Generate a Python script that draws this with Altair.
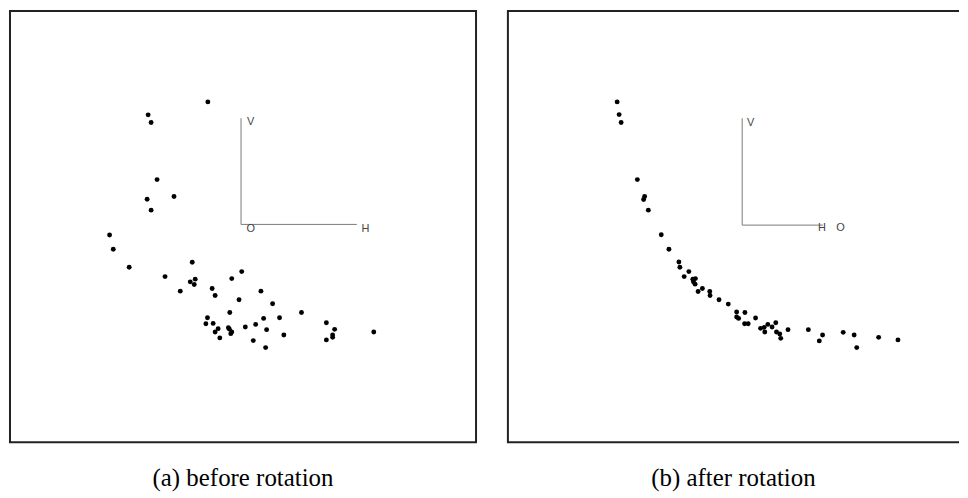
import altair as alt
import pandas as pd

# Data units: 1 unit ~ 1 px of the reference figure, x to the right, y upward
# (y = 0 on the lower frame line, x = 0 on the left frame line of each panel).
A_DOMAIN_X = [2, 470]
B_DOMAIN_X = [0, 453]
DOMAIN_Y = [0, 433]

# (a) before rotation: projected coordinates of the points
a_x = [200.7, 140.7, 143.7, 149.7, 166.7, 139.7, 143.7, 102.0, 105.7, 121.7,
       185.0, 157.7, 183.0, 188.0, 187.0, 173.0, 224.7, 234.7, 205.0, 208.0,
       254.0, 232.0, 265.7, 294.7, 222.7, 200.3, 198.7, 206.0, 256.7, 272.7,
       211.0, 208.0, 221.3, 222.3, 224.7, 223.7, 212.7, 238.3, 248.7, 259.7,
       277.0, 246.3, 258.7, 319.7, 328.0, 326.0, 326.0, 319.7, 367.3]
a_y = [341.7, 328.7, 321.0, 263.7, 246.7, 244.0, 233.0, 208.0, 193.7, 175.7,
       180.7, 166.3, 161.0, 163.7, 158.3, 151.7, 164.3, 171.3, 154.3, 147.3,
       151.7, 143.0, 139.0, 130.3, 130.3, 125.0, 119.0, 119.3, 124.3, 125.0,
       114.0, 110.7, 115.0, 113.5, 110.7, 109.0, 104.7, 115.7, 118.3, 113.0,
       107.7, 102.0, 95.0, 120.0, 113.3, 107.7, 105.3, 102.7, 110.7]

# (b) after rotation
b_x = [109.7, 111.7, 113.7, 130.0, 137.3, 136.3, 141.0, 154.0, 161.7, 171.7,
       172.7, 181.7, 177.0, 185.7, 188.3, 186.3, 188.0, 195.3, 191.0, 202.7,
       203.0, 212.0, 221.3, 229.7, 238.0, 229.7, 231.7, 248.7, 237.7, 241.3,
       253.7, 257.3, 261.0, 269.0, 265.3, 258.0, 269.7, 273.0, 274.0, 281.3,
       301.7, 312.7, 316.0, 336.7, 347.7, 350.3, 372.3, 391.7]
b_y = [341.7, 329.0, 321.0, 263.7, 246.7, 243.7, 233.0, 208.3, 193.7, 181.0,
       175.7, 171.3, 166.3, 163.7, 164.3, 161.0, 158.7, 154.3, 151.3, 151.3,
       147.3, 143.0, 138.7, 130.7, 130.3, 125.7, 124.3, 124.7, 119.0, 119.0,
       114.3, 115.3, 118.3, 120.0, 115.7, 110.7, 110.7, 108.7, 104.3, 113.0,
       113.0, 101.7, 107.7, 110.3, 107.7, 95.0, 105.3, 102.7]

# projection-axis indicator: segments (x, y) -> (x2, y2) and labels
a_seg_x = [234.0, 234.0]
a_seg_y = [218.7, 218.7]
a_seg_x2 = [234.0, 350.3]
a_seg_y2 = [325.3, 218.7]
a_lab = ["V", "O", "H"]
a_lab_x = [243.7, 243.7, 359.0]
a_lab_y = [321.3, 213.7, 213.7]

b_seg_x = [235.3, 235.3]
b_seg_y = [218.0, 218.0]
b_seg_x2 = [235.3, 316.3]
b_seg_y2 = [325.3, 218.0]
b_lab = ["V", "H", "O"]
b_lab_x = [243.7, 315.3, 334.0]
b_lab_y = [320.3, 214.7, 214.7]

captions = ["(a) before rotation", "(b) after rotation"]


def panel(dom_x, px, py, sx, sy, sx2, sy2, lab, lx, ly, caption, view):
    w = dom_x[1] - dom_x[0]
    h = DOMAIN_Y[1] - DOMAIN_Y[0]
    xs = alt.Scale(domain=dom_x, nice=False, zero=False)
    ys = alt.Scale(domain=DOMAIN_Y, nice=False, zero=False)
    pts = pd.DataFrame({"x": px, "y": py})
    seg = pd.DataFrame({"x": sx, "y": sy, "x2": sx2, "y2": sy2})
    labs = pd.DataFrame({"x": lx, "y": ly, "label": lab})

    rules = alt.Chart(seg).mark_rule(color="#7a7a7a", strokeWidth=1).encode(
        x=alt.X("x:Q", scale=xs, axis=None),
        y=alt.Y("y:Q", scale=ys, axis=None),
        x2="x2:Q",
        y2="y2:Q",
    )
    dots = alt.Chart(pts).mark_circle(size=24, color="black", opacity=1).encode(
        x=alt.X("x:Q", scale=xs, axis=None),
        y=alt.Y("y:Q", scale=ys, axis=None),
    )
    text = alt.Chart(labs).mark_text(
        font="Liberation Sans", fontSize=11, color="#444444", align="center", baseline="middle"
    ).encode(
        x=alt.X("x:Q", scale=xs, axis=None),
        y=alt.Y("y:Q", scale=ys, axis=None),
        text="label:N",
    )
    return alt.layer(rules, dots, text).properties(
        width=w,
        height=h,
        view=view,
        title=alt.TitleParams(
            caption, orient="bottom", anchor="middle", font="Liberation Serif",
            fontSize=25, fontWeight="normal", color="black", offset=24,
        ),
    )


view_a = alt.ViewBackground(stroke="#222222", strokeWidth=2)
# panel (b) runs off the right edge of the figure: no right frame line
bw = B_DOMAIN_X[1] - B_DOMAIN_X[0]
bh = DOMAIN_Y[1] - DOMAIN_Y[0]
view_b = alt.ViewBackground(stroke="#222222", strokeWidth=2, strokeDash=[bw, bh, bw + bh])

pa = panel(A_DOMAIN_X, a_x, a_y, a_seg_x, a_seg_y, a_seg_x2, a_seg_y2,
           a_lab, a_lab_x, a_lab_y, captions[0], view_a)
pb = panel(B_DOMAIN_X, b_x, b_y, b_seg_x, b_seg_y, b_seg_x2, b_seg_y2,
           b_lab, b_lab_x, b_lab_y, captions[1], view_b)

chart = alt.hconcat(pa, pb, spacing=30).properties(
    padding={"left": 1, "top": 1, "right": 0, "bottom": -1},
    background="white",
)

chart.save("out.html", embed_options={"renderer": "svg", "actions": False})
